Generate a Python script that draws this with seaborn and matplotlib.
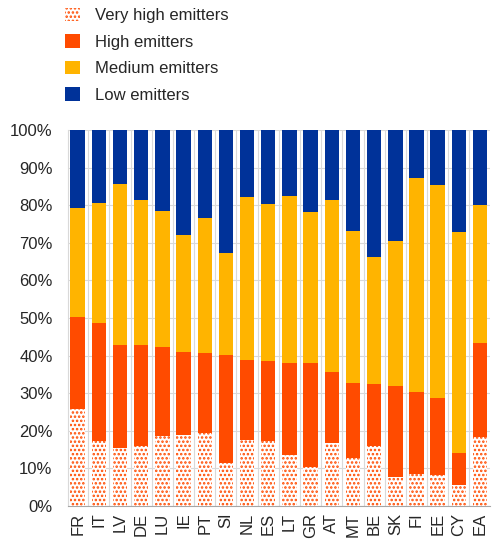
import pandas as pd
import seaborn as sns
import matplotlib.pyplot as plt
from matplotlib.patches import Patch
from matplotlib.ticker import FuncFormatter

countries = ['FR', 'IT', 'LV', 'DE', 'LU', 'IE', 'PT', 'SI', 'NL', 'ES',
             'LT', 'GR', 'AT', 'MT', 'BE', 'SK', 'FI', 'EE', 'CY', 'EA']

# shares in %
very_high = [25.7, 17.2, 15.4, 15.8, 18.7, 18.9, 19.3, 11.5, 17.6, 17.2,
             13.6, 10.4, 16.8, 12.8, 15.8, 7.7, 8.5, 8.3, 5.4, 18.4]
high = [24.7, 31.4, 27.5, 27.0, 23.5, 22.1, 21.3, 28.7, 21.1, 21.3,
        24.5, 27.5, 18.7, 19.8, 16.6, 24.1, 21.7, 20.4, 8.6, 25.0]
medium = [28.8, 32.1, 42.8, 38.6, 36.3, 31.1, 35.9, 27.0, 43.4, 41.9,
          44.3, 40.2, 45.9, 40.5, 33.8, 38.8, 57.0, 56.7, 58.9, 36.8]
low = [20.8, 19.3, 14.3, 18.6, 21.5, 27.9, 23.5, 32.8, 17.9, 19.6,
       17.6, 21.9, 18.6, 26.9, 33.8, 29.4, 12.8, 14.6, 27.1, 19.8]

labels = ['Very high emitters', 'High emitters', 'Medium emitters', 'Low emitters']
c_high = '#FF4B00'
c_med = '#FFB400'
c_low = '#003299'

df = pd.DataFrame({'country': countries, 'very_high': very_high,
                   'high': high, 'medium': medium, 'low': low})
df['cum_vh'] = df['very_high']
df['cum_high'] = df['cum_vh'] + df['high']
df['cum_med'] = df['cum_high'] + df['medium']
df['cum_low'] = df['cum_med'] + df['low']

sns.set_style('white')
plt.rcParams['font.family'] = ['Liberation Sans', 'DejaVu Sans']
plt.rcParams['hatch.linewidth'] = 1.2

fig = plt.figure(figsize=(4.92, 5.45), dpi=100)
ax = fig.add_axes([0.138, 0.072, 0.857, 0.689])

w = 0.68
sns.barplot(data=df, x='country', y='cum_low', color=c_low, width=w,
            saturation=1, linewidth=0, ax=ax, zorder=2)
sns.barplot(data=df, x='country', y='cum_med', color=c_med, width=w,
            saturation=1, linewidth=0, ax=ax, zorder=3)
sns.barplot(data=df, x='country', y='cum_high', color=c_high, width=w,
            saturation=1, linewidth=0, ax=ax, zorder=4)
sns.barplot(data=df, x='country', y='cum_vh', color='white', width=w,
            saturation=1, linewidth=0, edgecolor=c_high, hatch='....',
            ax=ax, zorder=5)

ax.set_ylim(0, 100)
ax.set_xlim(-0.46, len(countries) - 0.55)
ax.set_yticks(range(0, 101, 10))
ax.yaxis.set_major_formatter(FuncFormatter(lambda v, p: f'{v:.0f}%'))
ax.set_xticks([i + 0.5 for i in range(len(countries) - 1)], minor=True)
ax.grid(axis='y', which='major', color='#d9d9d9', linewidth=0.8, zorder=0)
ax.grid(axis='x', which='minor', color='#d9d9d9', linewidth=0.8, zorder=0)
ax.grid(axis='x', which='major', visible=False)
ax.set_axisbelow(True)
ax.set_xlabel('')
ax.set_ylabel('')
ax.tick_params(axis='x', which='both', length=0, labelsize=12, rotation=90, pad=5)
ax.tick_params(axis='y', length=0, labelsize=12, pad=11)

for s in ['top', 'right']:
    ax.spines[s].set_visible(False)
ax.spines['left'].set_color('#d9d9d9')
ax.spines['bottom'].set_color('#a6a6a6')

handles = [Patch(facecolor='white', edgecolor=c_high, hatch='....', linewidth=0),
           Patch(facecolor=c_high, linewidth=0),
           Patch(facecolor=c_med, linewidth=0),
           Patch(facecolor=c_low, linewidth=0)]
fig.legend(handles, labels, loc='upper left', bbox_to_anchor=(0.132, 0.986),
           frameon=False, fontsize=12, handlelength=0.9, handleheight=0.9,
           handletextpad=0.9, labelspacing=0.65, borderpad=0, borderaxespad=0)

fig.savefig('out.png', dpi=100)
